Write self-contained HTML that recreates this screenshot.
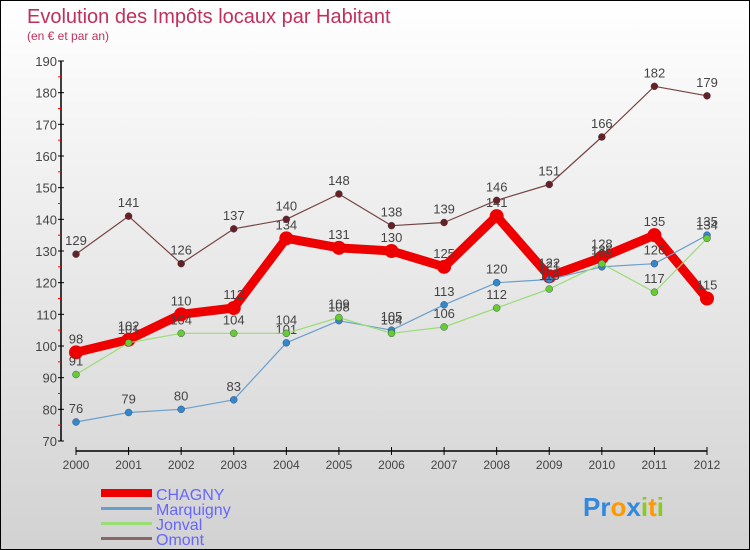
<!DOCTYPE html>
<html><head><meta charset="utf-8"><style>
body{margin:0}
#c{width:750px;height:550px;position:relative;box-sizing:border-box;border:1px solid #000;background:linear-gradient(#ffffff,#d2d2d2);font-family:"Liberation Sans",sans-serif}
</style></head><body>
<div id="c">
<svg id="s" width="748" height="548" xmlns="http://www.w3.org/2000/svg" style="position:absolute;left:0;top:0" font-family="Liberation Sans, sans-serif">
<text x="26" y="22" font-size="20" fill="#c0305a">Evolution des Impôts locaux par Habitant</text>
<text x="26" y="39" font-size="12" fill="#c0305a">(en € et par an)</text>
<g id="axes"></g><g id="series"></g>
<g>
<rect x="100" y="488" width="51" height="8" fill="#ee0000"/>
<text x="155" y="499" font-size="16" fill="#6666ff">CHAGNY</text>
<rect x="100" y="506" width="51" height="3" fill="#6a9fcc"/>
<text x="155" y="514" font-size="16" fill="#6666ff">Marquigny</text>
<rect x="100" y="521" width="51" height="3" fill="#99dd77"/>
<text x="155" y="529" font-size="16" fill="#6666ff">Jonval</text>
<rect x="100" y="536" width="51" height="3" fill="#886666"/>
<text x="155" y="544" font-size="16" fill="#6666ff">Omont</text>
</g>
<text x="582" y="515" font-size="26" font-weight="bold"><tspan fill="#3388dd">Pr</tspan><tspan fill="#ff9900">o</tspan><tspan fill="#3388dd">x</tspan><tspan fill="#88cc22">i</tspan><tspan fill="#ff9900">t</tspan><tspan fill="#88cc22">i</tspan></text>
</svg>
</div>
<script>
const years=["2000","2001","2002","2003","2004","2005","2006","2007","2008","2009","2010","2011","2012"];
const yTicks=[70,80,90,100,110,120,130,140,150,160,170,180,190];
const chagny=[98,102,110,112,134,131,130,125,141,122,128,135,115];
const marquigny=[76,79,80,83,101,108,105,113,120,121,125,126,135];
const jonval=[91,101,104,104,104,109,104,106,112,118,126,117,134];
const omont=[129,141,126,137,140,148,138,139,146,151,166,182,179];
const NS="http://www.w3.org/2000/svg";
const xS=i=>75+i*(706-75)/12;
const yS=v=>440-(v-70)*380/120;
function mk(t,a,p){const e=document.createElementNS(NS,t);for(const k in a)e.setAttribute(k,a[k]);p.appendChild(e);return e;}
const ax=document.getElementById('axes');
let l=mk('line',{x1:60,y1:60,x2:60,y2:440,stroke:'#000','stroke-width':1.5},ax);


l=mk('line',{x1:75,y1:450,x2:706,y2:450,stroke:'#000','stroke-width':1.5},ax);


yTicks.forEach((v,i)=>{
 mk('line',{x1:57,y1:yS(v),x2:63,y2:yS(v),stroke:'#000'},ax);
 if(i<yTicks.length-1) mk('line',{x1:57,y1:yS(v+5),x2:60,y2:yS(v+5),stroke:'#f00'},ax);
 const t=mk('text',{x:56,y:yS(v)+5,'text-anchor':'end','font-size':13,fill:'#444'},ax);
 t.textContent=v;
 
 
});
years.forEach((y,i)=>{
 mk('line',{x1:xS(i),y1:446,x2:xS(i),y2:454,stroke:'#000'},ax);
 const t=mk('text',{x:xS(i),y:468,'text-anchor':'middle','font-size':12,fill:'#444'},ax);
 t.textContent=y;
 
 
});
const sg=document.getElementById('series');
const series=[["chagny",chagny,"#ee0000",9,7,"#ee0000"],["marquigny",marquigny,"#6a9fcc",1.2,3.5,"#3388cc"],["jonval",jonval,"#99dd77",1.2,3.5,"#66cc33"],["omont",omont,"#774444",1.2,3.5,"#662222"]];
series.forEach(([n,d,c,w,r,pc])=>{
 const g=mk('g',{},sg);
 
 
 const p=mk('polyline',{points:d.map((v,i)=>xS(i)+','+yS(v)).join(' '),fill:'none',stroke:c,'stroke-width':w,'stroke-linejoin':'round'},g);
 
 
 d.forEach((v,i)=>{
  const cc=mk('circle',{cx:xS(i),cy:yS(v),r:r,fill:pc,stroke:n==='chagny'?'none':'#335',"stroke-width":0.4},g);
  
  
  const t=mk('text',{x:xS(i),y:yS(v)-9,'text-anchor':'middle','font-size':13,fill:'#444'},g);
  t.textContent=v;
  
  
 });
});
</script>
</body></html>
